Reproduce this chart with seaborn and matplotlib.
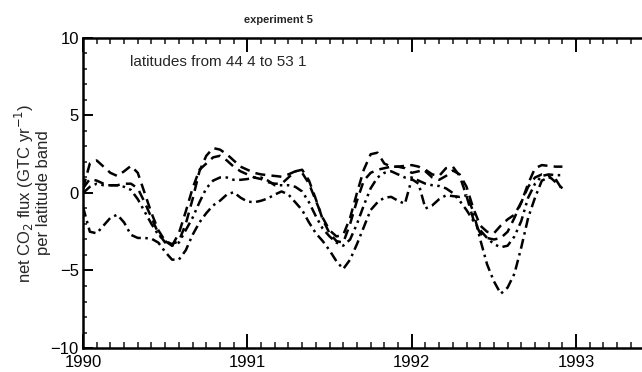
import numpy as np
import pandas as pd
import matplotlib
matplotlib.use("Agg")
import matplotlib.pyplot as plt
from matplotlib.ticker import MultipleLocator
import seaborn as sns

# time axis: half-monthly steps from 1990.0
time = [1990 + j / 24 for j in range(71)]

series_a = [0.3, 1.9, 2.1, 1.7, 1.3, 1.1, 1.4, 1.75, 1.3, 0.0, -1.3, -2.4, -3.1, -3.3, -3.1, -2.0,
            -0.4, 1.4, 2.4, 2.9, 2.8, 2.5, 2.1, 1.7, 1.5, 1.3, 1.2, 1.15, 1.1, 1.05, 1.2, 1.4,
            1.3, 0.6, -0.5, -1.6, -2.4, -2.8, -2.7, -1.6, 0.0, 1.5, 2.5, 2.6, 1.9, 1.7, 1.7, 1.75,
            1.8, 1.7, 1.4, 1.0, 0.85, 1.1, 1.45, 1.2, 0.4, -1.0, -2.1, -2.5, -2.6, -2.1, -1.7, -1.4,
            -0.6, 0.6, 1.6, 1.8, 1.75, 1.7, 1.7]
series_b = [0.3, 0.9, 0.8, 0.6, 0.5, 0.5, 0.6, 0.6, 0.3, -0.6, -1.6, -2.6, -3.2, -3.4, -2.6, -1.2,
            0.3, 1.5, 1.9, 2.3, 2.4, 2.1, 1.7, 1.4, 1.2, 1.0, 0.9, 0.7, 0.6, 0.6, 1.0, 1.4,
            1.5, 0.8, -0.4, -1.7, -2.6, -3.1, -3.2, -2.0, -0.5, 0.8, 1.3, 1.5, 1.6, 1.7, 1.7, 1.6,
            1.3, 1.4, 1.5, 1.2, 1.1, 1.6, 1.7, 1.1, -0.2, -1.7, -2.6, -2.9, -3.0, -2.9, -2.5, -1.6,
            -0.6, 0.4, 1.0, 1.2, 1.1, 0.7, 0.3]
series_c = [0.0, 0.4, 0.6, 0.5, 0.5, 0.5, 0.4, 0.2, -0.4, -1.2, -2.0, -2.7, -3.1, -3.4, -3.2, -2.4,
            -1.6, -0.6, 0.3, 0.8, 1.0, 1.0, 0.85, 0.85, 0.9, 1.0, 1.0, 0.8, 0.5, 0.5, 0.5, 0.4,
            0.1, -0.6, -1.5, -2.3, -2.8, -3.2, -3.4, -3.0, -2.0, -0.8, 0.3, 1.0, 1.3, 1.4, 1.2, 1.0,
            1.0, 0.8, 0.6, 0.5, 0.45, 0.3, 0.0, -0.5, -1.1, -1.8, -2.4, -2.9, -3.3, -3.5, -3.4, -2.8,
            -1.8, -0.3, 0.6, 1.1, 1.2, 1.15, 1.15]
series_d = [-0.9, -2.5, -2.6, -2.1, -1.6, -1.4, -1.9, -2.7, -2.9, -2.9, -2.95, -3.2, -3.8, -4.3, -4.3, -3.7,
            -2.7, -1.9, -1.3, -0.8, -0.5, -0.1, 0.05, -0.3, -0.55, -0.6, -0.5, -0.35, -0.1, 0.1, -0.1, -0.6,
            -1.1, -1.9, -2.6, -3.1, -3.7, -4.4, -4.9, -4.3, -3.3, -2.2, -1.1, -0.6, -0.3, -0.25, -0.5, -0.7,
            0.9, 0.6, -1.0, -0.8, -0.4, -0.15, -0.2, -0.25, -0.15, -1.2, -3.0, -4.6, -5.7, -6.5, -6.1, -5.2,
            -3.5, -1.6, -0.3, 0.8, 1.0, 0.9, 0.2]

names = ["a", "b", "c", "d"]
df = pd.concat([
    pd.DataFrame({"t": time, "v": vals, "series": nm})
    for nm, vals in zip(names, [series_a, series_b, series_c, series_d])
], ignore_index=True)

sns.set_style("white")
plt.rcParams["font.family"] = ["Liberation Sans", "DejaVu Sans"]

W, H = 642, 372
fig = plt.figure(figsize=(W / 100, H / 100), dpi=100)
ax = fig.add_axes([83 / W, 1 - 348 / H, 1 - 83 / W + 0.01, (348 - 38) / H])

sns.lineplot(data=df, x="t", y="v", style="series", color="black", linewidth=1.8,
             dashes={"a": (4, 2.5), "b": (4, 2.5), "c": (4, 1.8, 1, 1.8, 1, 1.8), "d": (4, 1.8, 1, 1.8)},
             legend=False, ax=ax, estimator=None, sort=False)

ax.set_xlim(1990, 1993.44)
ax.set_ylim(-10, 10)
ax.xaxis.set_minor_locator(MultipleLocator(1 / 12))
ax.yaxis.set_minor_locator(MultipleLocator(1))
ax.set_xticks([1990, 1991, 1992, 1993])
ax.set_xticklabels(["1990", "1991", "1992", "1993"])
ax.set_yticks([-10, -5, 0, 5, 10])
ax.set_yticklabels(["\u221210", "\u22125", "0", "5", "10"])

ax.tick_params(axis="x", which="major", direction="in", length=10, width=1.4,
               top=True, bottom=True, labelsize=12, pad=5, colors="black")
ax.tick_params(axis="x", which="minor", direction="in", length=4, width=1.2, top=True, bottom=True)
ax.tick_params(axis="y", which="major", direction="in", length=7, width=1.4,
               left=True, right=False, labelsize=12, pad=3, colors="black")
ax.tick_params(axis="y", which="minor", direction="in", length=3, width=1.2, left=True, right=False)

for s in ["left", "top", "bottom"]:
    ax.spines[s].set_linewidth(1.8)
    ax.spines[s].set_color("black")
ax.spines["right"].set_visible(False)

ax.set_xlabel("")
ax.set_ylabel("")
ax.grid(False)

fig.text(24 / W, 1 - 193 / H, "net CO$_2$ flux (GTC yr$^{-1}$)", rotation=90, fontsize=12,
         ha="center", va="center")
fig.text(44 / W, 1 - 193 / H, "per latitude band", rotation=90, fontsize=12,
         ha="center", va="center")
fig.text(130 / W, 1 - 62 / H, "latitudes from 44 4 to 53 1", fontsize=11,
         va="center", ha="left")
fig.text(278 / W, 1 - 20 / H, "experiment 5", fontsize=8, fontweight="bold",
         ha="center", va="center")

fig.savefig("out.png", dpi=100)
